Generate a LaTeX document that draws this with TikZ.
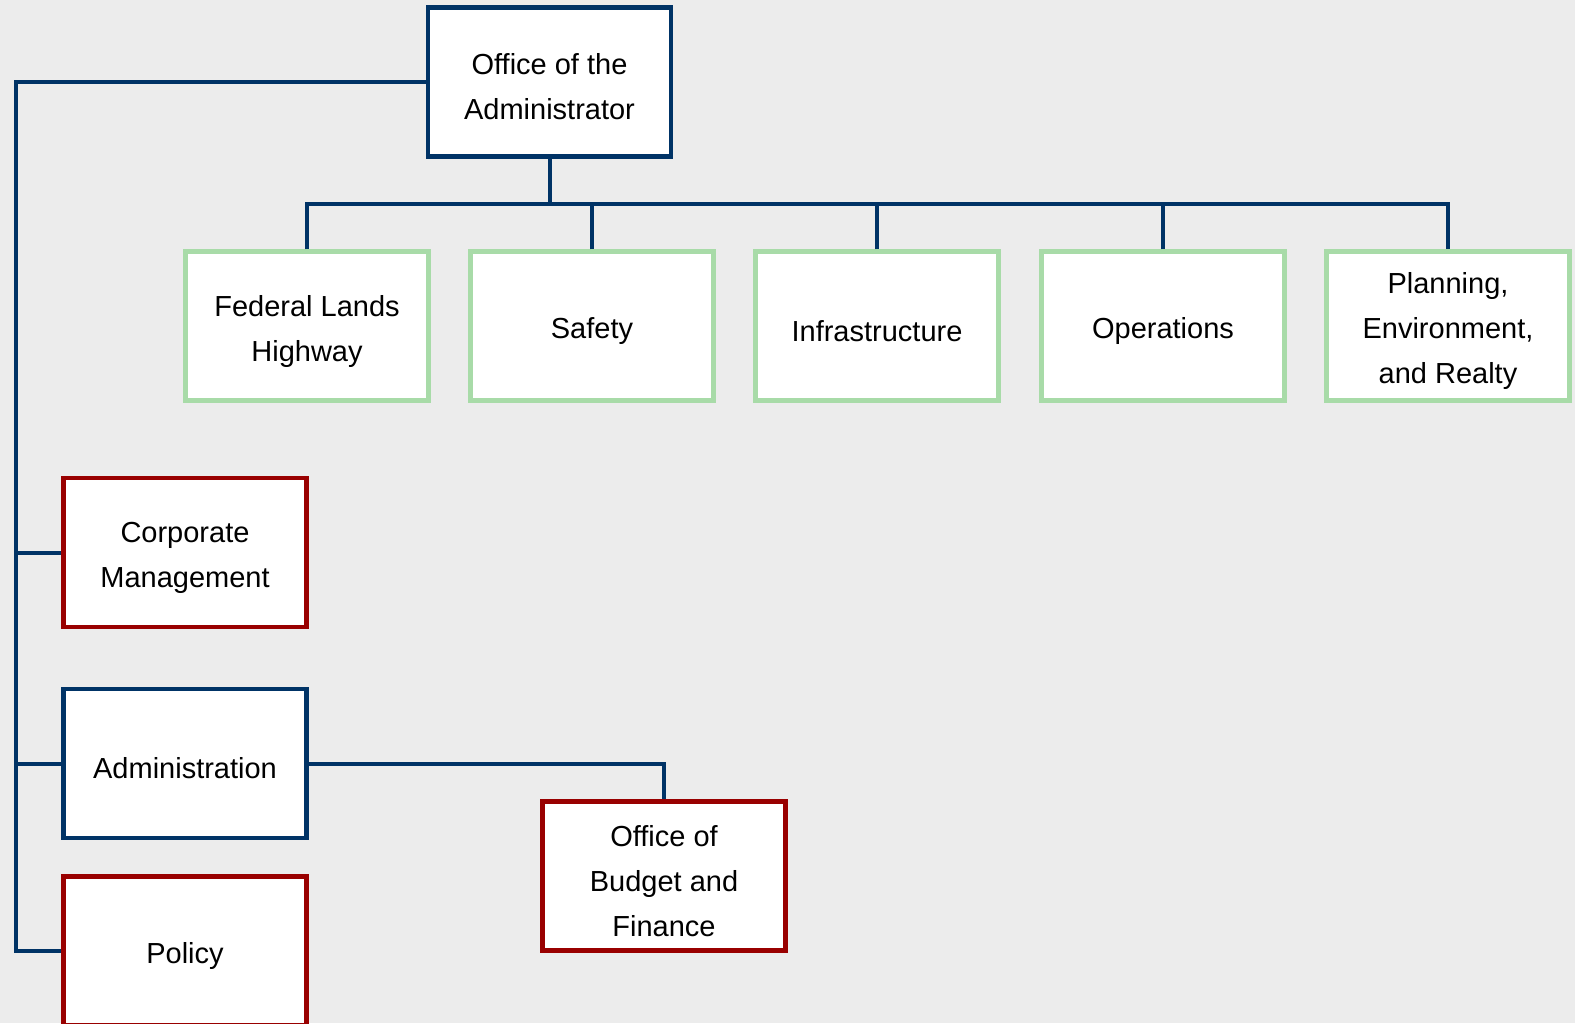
\documentclass[tikz,border=0pt]{standalone}
\usepackage{fontspec}
\setmainfont{Liberation Sans}
\definecolor{navy}{RGB}{0,51,102}
\definecolor{dred}{RGB}{153,0,0}
\definecolor{lgreen}{RGB}{168,219,168}
\definecolor{bg}{RGB}{236,236,236}
\begin{document}
\begin{tikzpicture}[x=1bp,y=-1bp,
  box/.style={draw, fill=white, line width=4.5bp, minimum width=243bp, minimum height=149bp,
    inner sep=0pt},
  lbl/.style={align=center, text=black, yshift=-5bp, font=\fontsize{29bp}{45bp}\selectfont},
  navybox/.style={box, draw=navy},
  redbox/.style={box, draw=dred},
  greenbox/.style={box, draw=lgreen},
  link/.style={draw=navy, line width=4bp}]
\useasboundingbox (0,0) rectangle (1575,1023);
\fill[bg] (0,0) rectangle (1575,1023);
\begin{scope}
\clip (0,0) rectangle (1575,1023);
\node[navybox, label={[lbl]center:Office of the\\Administrator}] (adm) at (549.5,82) {};
\node[greenbox, label={[lbl]center:Federal Lands\\Highway}] (fl) at (307,326) {};
\node[greenbox, label={[lbl]center:Safety}] (sa) at (592,326) {};
\node[greenbox, label={[lbl]center:Infrastructure}] (in) at (877,326) {};
\node[greenbox, label={[lbl]center:Operations}] (op) at (1163,326) {};
\node[greenbox, label={[lbl]center:Planning,\\Environment,\\and Realty}] (pe) at (1448,326) {};
\node[redbox, label={[lbl]center:Corporate\\Management}] (cm) at (185,552.5) {};
\node[navybox, label={[lbl]center:Administration}] (ad) at (185,763.5) {};
\node[redbox, label={[lbl]center:Policy}] (pol) at (185,951) {};
\node[redbox, label={[lbl]center:Office of\\Budget and\\Finance}] (bud) at (664,876) {};
\coordinate (bus) at (549,204);
\coordinate (lx) at (16,0);
\draw[link] (fl.north) |- (pe.north |- bus) -- (pe.north);
\draw[link] (adm.south) -- (adm.south |- bus);
\draw[link] (sa.north) -- (sa.north |- bus);
\draw[link] (in.north) -- (in.north |- bus);
\draw[link] (op.north) -- (op.north |- bus);
\draw[link] (adm.west) -| (lx |- pol.west) -- (pol.west);
\draw[link] (cm.west) -- (lx |- cm.west);
\draw[link] (ad.west) -- (lx |- ad.west);
\draw[link] (ad.east) -| (bud.north);
\end{scope}
\end{tikzpicture}
\end{document}
